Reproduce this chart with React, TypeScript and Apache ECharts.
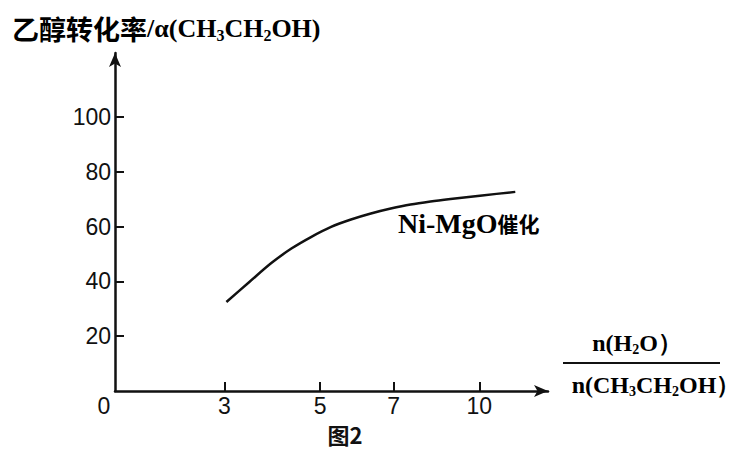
import React, { useEffect, useRef } from "react";
import * as echarts from "echarts";

// ---- data ----
const xTickLabels = [0, 3, 5, 7, 10]; // n(H2O)/n(CH3CH2OH) tick labels
const yTickLabels = [20, 40, 60, 80, 100]; // conversion (%) tick labels
const ratioValues = [3.04, 3.52, 3.98, 4.4, 4.81, 5.3, 5.84, 6.38, 6.92, 7.59, 8.29, 8.99, 10.1, 11.26];
const conversionValues = [32.5, 39.8, 46.7, 52.0, 56.2, 59.9, 62.6, 64.8, 66.6, 68.1, 69.2, 70.1, 71.4, 72.7];

// ---- axis scale (the printed x axis is not linear; stops map ratio -> axis units) ----
const X_SCALE_STOPS = [0, 110, 206, 280, 366];
const X_AXIS_MAX = 435;
const Y_AXIS_MAX = 123.4;

function warp(r: number): number {
  const t = xTickLabels;
  const s = X_SCALE_STOPS;
  for (let i = 0; i < t.length - 1; i++) {
    if (r <= t[i + 1]) {
      return s[i] + ((r - t[i]) / (t[i + 1] - t[i])) * (s[i + 1] - s[i]);
    }
  }
  const n = t.length - 1;
  const slope = (s[n] - s[n - 1]) / (t[n] - t[n - 1]);
  return s[n] + (r - t[n]) * slope;
}

const INK = "#111111";
const SERIF = "'Liberation Serif', 'DejaVu Serif', serif";
const CJK = "'Noto Sans CJK SC', sans-serif";
const SANS = "'Liberation Sans', Arial, sans-serif";

export default function App() {
  const ref = useRef<HTMLDivElement>(null);
  useEffect(() => {
    if (!ref.current) return;
    const chart = echarts.init(ref.current, null, { renderer: "svg" });
    const sub = (size: number, pad: number) => ({
      fontFamily: SERIF,
      fontWeight: "bold",
      fontSize: size,
      color: INK,
      padding: [pad, 0, 0, 0],
    });
    const main = (size: number) => ({
      fontFamily: SERIF,
      fontWeight: "bold",
      fontSize: size,
      color: INK,
    });
    chart.setOption({
      animation: false,
      backgroundColor: "#ffffff",
      grid: { left: 115, right: 197, top: 53, bottom: 58, containLabel: false },
      xAxis: {
        type: "value",
        min: 0,
        max: X_AXIS_MAX,
        splitLine: { show: false },
        axisLine: {
          show: true,
          lineStyle: { color: INK, width: 2.5 },
          symbol: ["none", "arrow"],
          symbolSize: [9, 14],
        },
        axisTick: {
          show: true,
          inside: true,
          length: 9,
          lineStyle: { color: INK, width: 2 },
          customValues: X_SCALE_STOPS.slice(1),
        },
        axisLabel: {
          show: true,
          margin: 3,
          customValues: X_SCALE_STOPS,
          formatter: (v: number) => {
            const i = X_SCALE_STOPS.indexOf(v);
            const lab = i >= 0 ? String(xTickLabels[i]) : "";
            return i === 0 ? `{z|${lab}}` : `{n|${lab}}`;
          },
          rich: {
            n: { fontFamily: SANS, fontSize: 23, color: INK },
            z: { fontFamily: SANS, fontSize: 23, color: INK, padding: [0, 22, 0, 0] },
          },
        },
      },
      yAxis: {
        type: "value",
        min: 0,
        max: Y_AXIS_MAX,
        splitLine: { show: false },
        axisLine: {
          show: true,
          lineStyle: { color: INK, width: 2.5 },
          symbol: ["none", "arrow"],
          symbolSize: [9, 14],
        },
        axisTick: {
          show: true,
          inside: true,
          length: 9,
          lineStyle: { color: INK, width: 2 },
          customValues: yTickLabels,
        },
        axisLabel: {
          show: true,
          margin: 4,
          customValues: yTickLabels,
          fontFamily: SANS,
          fontSize: 23,
          color: INK,
        },
      },
      series: [
        {
          type: "line",
          data: ratioValues.map((r, i) => [warp(r), conversionValues[i]]),
          smooth: 0.3,
          showSymbol: false,
          symbol: "none",
          lineStyle: { color: INK, width: 2.5 },
        },
      ],
      graphic: [
        {
          type: "text",
          left: 12,
          top: 15,
          style: {
            text: "{c|乙醇转化率}{b|/α(CH}{s|3}{b|CH}{s|2}{b|OH)}",
            rich: {
              c: { fontFamily: CJK, fontWeight: "bold", fontSize: 27, color: INK },
              b: main(26),
              s: sub(16, 13),
            },
          },
        },
        {
          type: "text",
          left: 398,
          top: 209,
          style: {
            text: "{b|Ni-MgO}{c|催化}",
            rich: {
              b: main(28),
              c: { fontFamily: CJK, fontWeight: "bold", fontSize: 21, color: INK },
            },
          },
        },
        {
          type: "text",
          x: 637,
          y: 343,
          style: {
            text: "{b|n(H}{s|2}{b|O）}",
            align: "center",
            verticalAlign: "middle",
            rich: { b: main(24), s: sub(14, 12) },
          },
        },
        {
          type: "line",
          shape: { x1: 563, y1: 363, x2: 720, y2: 363 },
          style: { stroke: INK, lineWidth: 2 },
        },
        {
          type: "text",
          x: 656,
          y: 385,
          style: {
            text: "{b|n(CH}{s|3}{b|CH}{s|2}{b|OH）}",
            align: "center",
            verticalAlign: "middle",
            rich: { b: main(24), s: sub(14, 12) },
          },
        },
        {
          type: "text",
          x: 345,
          y: 434,
          style: {
            text: "图2",
            align: "center",
            verticalAlign: "middle",
            fontFamily: CJK,
            fontWeight: "bold",
            fontSize: 22,
            fill: INK,
          },
        },
      ],
    });
    return () => chart.dispose();
  }, []);
  return (
    <div
      ref={ref}
      style={{ position: "absolute", left: 0, top: 0, width: 745, height: 449, background: "#fff" }}
    />
  );
}
